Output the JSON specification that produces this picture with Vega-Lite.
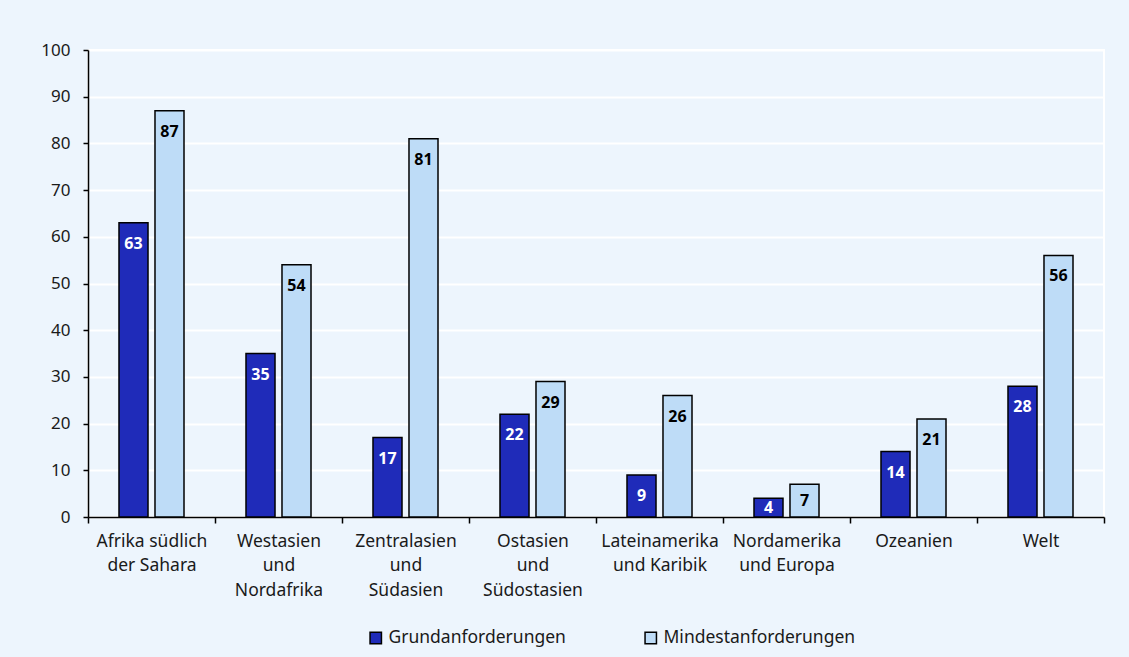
{
  "$schema": "https://vega.github.io/schema/vega-lite/v6.json",
  "width": 1016,
  "height": 467,
  "autosize": {"type": "none"},
  "padding": {"left": 88, "top": 50, "right": 25, "bottom": 140},
  "background": "#edf5fd",
  "config": {
    "font": "Noto Sans",
    "view": {"stroke": "white", "strokeWidth": 2}
  },
  "data": {
    "values": [
      {"region": "Afrika südlich|der Sahara", "series": "Grundanforderungen", "value": 63},
      {"region": "Afrika südlich|der Sahara", "series": "Mindestanforderungen", "value": 87},
      {"region": "Westasien|und|Nordafrika", "series": "Grundanforderungen", "value": 35},
      {"region": "Westasien|und|Nordafrika", "series": "Mindestanforderungen", "value": 54},
      {"region": "Zentralasien|und|Südasien", "series": "Grundanforderungen", "value": 17},
      {"region": "Zentralasien|und|Südasien", "series": "Mindestanforderungen", "value": 81},
      {"region": "Ostasien|und|Südostasien", "series": "Grundanforderungen", "value": 22},
      {"region": "Ostasien|und|Südostasien", "series": "Mindestanforderungen", "value": 29},
      {"region": "Lateinamerika|und Karibik", "series": "Grundanforderungen", "value": 9},
      {"region": "Lateinamerika|und Karibik", "series": "Mindestanforderungen", "value": 26},
      {"region": "Nordamerika|und Europa", "series": "Grundanforderungen", "value": 4},
      {"region": "Nordamerika|und Europa", "series": "Mindestanforderungen", "value": 7},
      {"region": "Ozeanien", "series": "Grundanforderungen", "value": 14},
      {"region": "Ozeanien", "series": "Mindestanforderungen", "value": 21},
      {"region": "Welt", "series": "Grundanforderungen", "value": 28},
      {"region": "Welt", "series": "Mindestanforderungen", "value": 56}
    ]
  },
  "encoding": {
    "x": {
      "field": "region",
      "type": "nominal",
      "sort": null,
      "scale": {"paddingInner": 0, "paddingOuter": 0},
      "axis": {
        "title": null,
        "labelAngle": 0,
        "labelExpr": "split(datum.label, '|')",
        "labelFontSize": 17.5,
        "labelColor": "#1a1a1a",
        "labelLineHeight": 24.5,
        "labelPadding": 9,
        "labelLimit": 0,
        "tickBand": "extent",
        "tickColor": "black",
        "tickSize": 6,
        "tickWidth": 1.5,
        "domainColor": "black",
        "domainWidth": 1.5
      }
    },
    "xOffset": {
      "field": "series",
      "type": "nominal",
      "sort": ["Grundanforderungen", "Mindestanforderungen"],
      "scale": {"paddingInner": 0.194, "paddingOuter": 0.861}
    }
  },
  "layer": [
    {
      "mark": {"type": "bar", "stroke": "black", "strokeWidth": 1.5},
      "encoding": {
        "y": {
          "field": "value",
          "type": "quantitative",
          "scale": {"domain": [0, 100], "nice": false},
          "axis": {
            "title": null,
            "values": [0, 10, 20, 30, 40, 50, 60, 70, 80, 90, 100],
            "labelFontSize": 17,
            "labelColor": "#1a1a1a",
            "labelPadding": 13,
            "tickColor": "black",
            "tickSize": 5,
            "tickWidth": 1.5,
            "domainColor": "black",
            "domainWidth": 1.5,
            "grid": true,
            "gridColor": "white",
            "gridWidth": 2
          }
        },
        "fill": {
          "field": "series",
          "type": "nominal",
          "sort": ["Grundanforderungen", "Mindestanforderungen"],
          "scale": {"range": ["#1f2bb9", "#bedcf7"]},
          "legend": {
            "title": null,
            "orient": "none",
            "direction": "horizontal",
            "legendX": 279,
            "legendY": 579,
            "symbolType": "square",
            "symbolSize": 130,
            "symbolStrokeColor": "black",
            "symbolStrokeWidth": 1.5,
            "symbolOpacity": 1,
            "labelFontSize": 17.5,
            "labelColor": "#1a1a1a",
            "labelOffset": 4,
            "labelLimit": 0,
            "columnPadding": 76
          }
        }
      }
    },
    {
      "transform": [
        {"calculate": "max(datum.value / 2, datum.value - 4.5)", "as": "labelPos"}
      ],
      "mark": {"type": "text", "fontWeight": "bold", "fontSize": 16, "baseline": "middle", "align": "center"},
      "encoding": {
        "y": {"field": "labelPos", "type": "quantitative", "scale": {"domain": [0, 100], "nice": false}},
        "text": {"field": "value", "type": "quantitative"},
        "color": {
          "field": "series",
          "type": "nominal",
          "sort": ["Grundanforderungen", "Mindestanforderungen"],
          "scale": {"range": ["white", "black"]},
          "legend": null
        }
      }
    }
  ],
  "resolve": {"scale": {"color": "independent"}}
}
